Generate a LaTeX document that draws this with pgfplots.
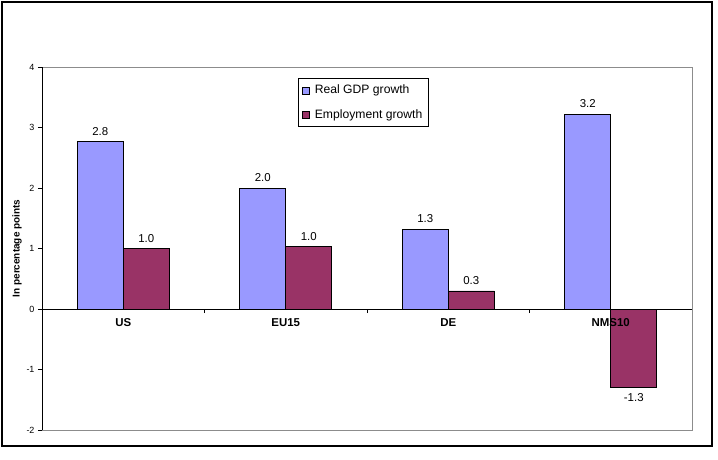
\documentclass[border=0pt]{standalone}
\usepackage{pgfplots}
\pgfplotsset{compat=1.18}
\usepackage{fontspec}
\setmainfont{Liberation Sans}
\definecolor{gdp}{HTML}{9999FF}
\definecolor{emp}{HTML}{993366}
\definecolor{framegray}{HTML}{8C8C8C}
\begin{document}
\begin{tikzpicture}
\begin{axis}[
 at={(0,0)}, anchor=south west,
 scale only axis, width=650bp, height=363bp,
 xmin=-0.5, xmax=3.5, ymin=-2, ymax=4,
 clip=false, axis on top,
 axis x line=middle, axis y line=left,
 axis line style={-, black, line width=0.6bp},
 every tick/.style={black, line width=0.6bp},
 xtick={0.5,1.5,2.5}, xticklabels={},
 xtick align=outside, major tick length=4bp,
 extra x ticks={0,1,2,3}, extra x tick labels={US,EU15,DE,NMS10},
 extra x tick style={major tick length=0pt, tick label style={font=\fontsize{11.5}{13}\selectfont\bfseries, yshift=-6bp}},
 ytick={-2,-1,0,1,2,3,4}, ytick align=outside,
 yticklabel style={font=\fontsize{9}{11}\selectfont},
 /pgf/number format/assume math mode=true,
 ylabel={In percentage points},
 ylabel style={font=\fontsize{10}{12}\selectfont\bfseries, yshift=-2bp},
 ybar=0pt, bar width=46bp,
 nodes near coords={\pgfmathprintnumber[fixed,fixed zerofill,precision=1,assume math mode=true]{\pgfplotspointmeta}},
 nodes near coords style={font=\fontsize{11.5}{13}\selectfont, black, inner ysep=6bp},
 legend style={at={(0.394,0.970)}, anchor=north west, draw=black, line width=0.6bp,
   font=\fontsize{12.2}{14}\selectfont, row sep=10bp, column sep=3bp, inner xsep=4bp, inner ysep=5bp},
 legend cell align=left,
 legend image code/.code={\draw[#1, draw=black, line width=0.5bp] (0bp,-3.5bp) rectangle (7bp,3.5bp);},
]
\draw[framegray, line width=0.8bp] (rel axis cs:0,0) -- (rel axis cs:1,0) -- (rel axis cs:1,1) -- (rel axis cs:0,1);
\addplot[fill=gdp, draw=black, line width=0.6bp] coordinates {(0,2.77) (1,2.00) (2,1.32) (3,3.22)};
\addplot[fill=emp, draw=black, line width=0.6bp] coordinates {(0,1.00) (1,1.03) (2,0.30) (3,-1.29)};
\legend{Real GDP growth, Employment growth}
\end{axis}
\draw[black, line width=1.2bp] (-40bp,-16bp) rectangle (670bp,428bp);
\pgfresetboundingbox
\useasboundingbox (-42bp,-30bp) rectangle (676bp,430bp);
\end{tikzpicture}
\end{document}
